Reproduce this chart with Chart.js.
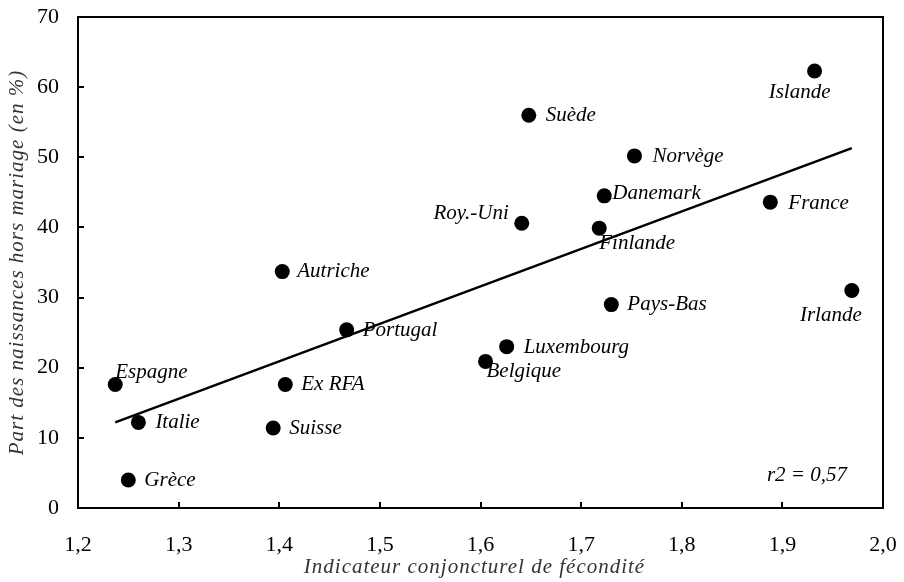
<!DOCTYPE html>
<html><head><meta charset="utf-8">
<script src="https://cdn.jsdelivr.net/npm/chart.js@4/dist/chart.umd.min.js"></script>
<style>html,body{margin:0;padding:0;background:#fff}</style>
</head><body>
<canvas id="c" width="904" height="582"></canvas>
<script>
// ---- Data ----
const countries = ["Islande","Suède","Norvège","Danemark","France","Roy.-Uni","Finlande","Autriche","Pays-Bas","Irlande","Portugal","Luxembourg","Belgique","Espagne","Ex RFA","Italie","Suisse","Grèce"];
const fecondite = [1.932,1.648,1.753,1.723,1.888,1.641,1.718,1.403,1.730,1.969,1.467,1.626,1.605,1.237,1.406,1.260,1.394,1.250];
const horsMariage = [62.3,56.0,50.2,44.5,43.6,40.6,39.9,33.7,29.0,31.0,25.4,23.0,20.9,17.6,17.6,12.2,11.4,4.0];
const trendX = [1.237, 1.969];
const trendY = [12.2, 51.3];
const xTicks = [1.2,1.3,1.4,1.5,1.6,1.7,1.8,1.9,2.0];
const yTicks = [0,10,20,30,40,50,60,70];
const r2Label = "r2 = 0,57";
const xTitle = "Indicateur conjoncturel de fécondité";
const yTitle = "Part des naissances hors mariage (en %)";

// ---- Label placement (style only) ----
const labelStyle = {
  "Islande":{dx:-15,dy:21,align:"center"},
  "Suède":{dx:17,dy:0,align:"left"},
  "Norvège":{dx:18,dy:1,align:"left"},
  "Danemark":{dx:8,dy:-2,align:"left"},
  "France":{dx:18,dy:1,align:"left"},
  "Roy.-Uni":{dx:-13,dy:-10,align:"right"},
  "Finlande":{dx:0,dy:15,align:"left"},
  "Autriche":{dx:15,dy:0,align:"left"},
  "Pays-Bas":{dx:16,dy:0,align:"left"},
  "Irlande":{dx:-21,dy:25,align:"center"},
  "Portugal":{dx:16,dy:1,align:"left"},
  "Luxembourg":{dx:17,dy:1,align:"left"},
  "Belgique":{dx:1,dy:10,align:"left"},
  "Espagne":{dx:0,dy:-12,align:"left"},
  "Ex RFA":{dx:16,dy:0,align:"left"},
  "Italie":{dx:17,dy:0,align:"left"},
  "Suisse":{dx:16,dy:0,align:"left"},
  "Grèce":{dx:16,dy:1,align:"left"}
};
const SERIF = "'Liberation Serif', 'Times New Roman', serif";

const decorPlugin = {
  id: "decor",
  afterDatasetsDraw(chart) {
    const ctx = chart.ctx;
    const ca = chart.chartArea;
    const xs = chart.scales.x, ys = chart.scales.y;
    ctx.save();
    // frame
    ctx.strokeStyle = "#000";
    ctx.lineWidth = 2;
    ctx.strokeRect(ca.left, ca.top, ca.right - ca.left, ca.bottom - ca.top);
    // inward ticks
    ctx.beginPath();
    yTicks.forEach(v => {
      const y = Math.round(ys.getPixelForValue(v));
      ctx.moveTo(ca.left, y); ctx.lineTo(ca.left + 6, y);
    });
    xTicks.forEach(v => {
      const x = Math.round(xs.getPixelForValue(v));
      ctx.moveTo(x, ca.bottom); ctx.lineTo(x, ca.bottom - 6);
    });
    ctx.stroke();
    // point labels
    const meta = chart.getDatasetMeta(1);
    ctx.fillStyle = "#000";
    ctx.font = "italic 21px " + SERIF;
    ctx.textBaseline = "middle";
    meta.data.forEach((el, i) => {
      const name = countries[i];
      const st = labelStyle[name] || {dx:16,dy:0,align:"left"};
      ctx.textAlign = st.align;
      ctx.fillText(name, el.x + st.dx, el.y + st.dy);
    });
    // r2
    ctx.textAlign = "right";
    ctx.fillText(r2Label, ca.right - 36, ca.bottom - 33);
    // axis titles (letter-spaced)
    ctx.fillStyle = "#333";
    ctx.font = "italic 21px " + SERIF;
    try { ctx.letterSpacing = "1px"; } catch (e) {}
    ctx.textAlign = "center";
    ctx.fillText(xTitle, (ca.left + ca.right) / 2 - 6, 567);
    ctx.save();
    ctx.translate(17, (ca.top + ca.bottom) / 2);
    ctx.rotate(-Math.PI / 2);
    ctx.fillText(yTitle, 0, 0);
    ctx.restore();
    ctx.restore();
  }
};

const fmt = v => Number(v).toFixed(1).replace(".", ",");

new Chart(document.getElementById("c"), {
  data: {
    datasets: [
      {
        type: "line",
        data: trendX.map((x, i) => ({x, y: trendY[i]})),
        borderColor: "#000",
        borderWidth: 2.5,
        pointRadius: 0,
        fill: false,
        tension: 0
      },
      {
        type: "scatter",
        data: countries.map((c, i) => ({x: fecondite[i], y: horsMariage[i]})),
        backgroundColor: "#000",
        borderWidth: 0,
        pointRadius: 7.5,
        pointHoverRadius: 7.5
      }
    ]
  },
  options: {
    responsive: false,
    devicePixelRatio: 1,
    animation: false,
    layout: { padding: { top: 17, right: 21, left: 0, bottom: 0 } },
    plugins: { legend: { display: false }, tooltip: { enabled: false } },
    scales: {
      x: {
        type: "linear",
        min: 1.2, max: 2.0,
        afterBuildTicks: s => { s.ticks = xTicks.map(v => ({value: v})); },
        afterFit: s => { s.height = 74; s.paddingLeft = 0; s.paddingRight = 0; s.paddingTop = 0; s.paddingBottom = 0; },
        grid: { display: false, drawTicks: false },
        border: { display: false },
        ticks: { callback: v => fmt(v), color: "#000", padding: 24, maxRotation: 0,
                 font: { family: SERIF, size: 22 } },
        title: { display: false }
      },
      y: {
        type: "linear",
        min: 0, max: 70,
        afterBuildTicks: s => { s.ticks = yTicks.map(v => ({value: v})); },
        afterFit: s => { s.width = 78; s.paddingLeft = 0; s.paddingRight = 0; s.paddingTop = 0; s.paddingBottom = 0; },
        grid: { display: false, drawTicks: false },
        border: { display: false },
        ticks: { color: "#000", padding: 19, font: { family: SERIF, size: 22 } },
        title: { display: false }
      }
    }
  },
  plugins: [decorPlugin]
});
</script>
</body></html>
